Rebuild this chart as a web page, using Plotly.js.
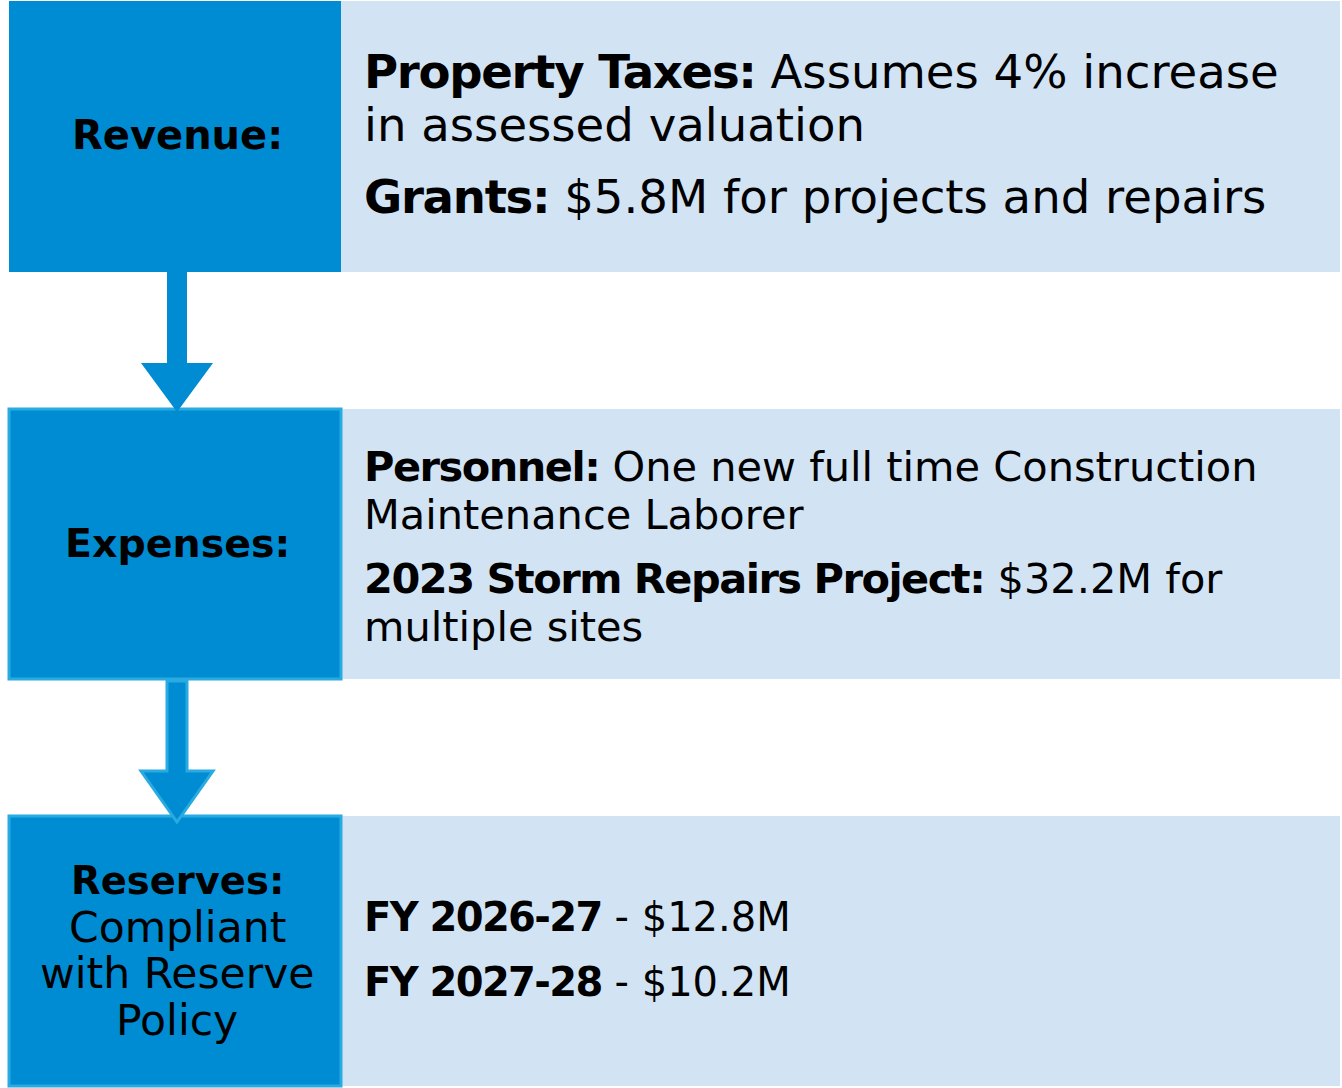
<!DOCTYPE html>
<html>
<head>
<meta charset="utf-8">
<script src="https://cdn.plot.ly/plotly-3.0.1.min.js"></script>
<style>
  html, body { margin: 0; padding: 0; background: #ffffff; }
  #chart { width: 1342px; height: 1088px; }
</style>
</head>
<body>
<div id="chart"></div>
<script>
// ---- Content (text of the diagram) ----
const stageLabels = ["Revenue:", "Expenses:", "Reserves:"];
const reserveNote = ["Compliant", "with Reserve", "Policy"];

const revenueBold = ["Property Taxes:", "", "Grants:"];
const revenueText = ["Assumes 4% increase", "in assessed valuation", "$5.8M for projects and repairs"];

const expenseBold = ["Personnel:", "", "2023 Storm Repairs Project:", ""];
const expenseText = ["One new full time Construction", "Maintenance Laborer", "$32.2M for", "multiple sites"];

const reserveYears = ["FY 2026-27", "FY 2027-28"];
const reserveAmounts = ["$12.8M", "$10.2M"];

// ---- Layout / styling ----
const DARK = "#008CD2";
const LIGHT = "#D2E4F4";
const EDGE = "#29ABE2";
const FONT = "DejaVu Sans, Noto Sans, sans-serif";

const boxes = [
  {y0: 1, y1: 272, edge: false},
  {y0: 409, y1: 679, edge: true},
  {y0: 816, y1: 1086, edge: true}
];

const shapes = [];
boxes.forEach(b => {
  shapes.push({type: "rect", xref: "x", yref: "y", x0: 341, x1: 1340, y0: b.y0, y1: b.y1,
    fillcolor: LIGHT, line: {width: 0}, layer: "below"});
  shapes.push({type: "rect", xref: "x", yref: "y", x0: 9, x1: 341, y0: b.y0, y1: b.y1,
    fillcolor: DARK, line: {width: b.edge ? 3 : 0, color: EDGE}, layer: "below"});
});

function arrowPath(top, headTop, tip) {
  return `M167,${top} L187,${top} L187,${headTop} L213,${headTop} L177,${tip} L141,${headTop} L167,${headTop} Z`;
}
shapes.push({type: "path", xref: "x", yref: "y", path: arrowPath(272, 363, 412),
  fillcolor: DARK, line: {width: 0}});
shapes.push({type: "path", xref: "x", yref: "y", path: arrowPath(681, 771, 822),
  fillcolor: DARK, line: {width: 3, color: EDGE}});

const annotations = [];
function ann(text, x, y, size, anchor) {
  annotations.push({
    text: text, x: x, y: y, xref: "x", yref: "y",
    xanchor: anchor || "left", yanchor: "middle",
    showarrow: false, align: anchor === "center" ? "center" : "left",
    font: {family: FONT, size: size, color: "#000000"}
  });
}
function bold(t, ls) {
  return '<span style="letter-spacing:' + ls + 'px"><b>' + t + '</b></span>';
}
function line(b, rest, ls) {
  return (b ? bold(b, ls) + " " : "") + rest;
}

// Left stage labels
ann(bold(stageLabels[0], 0), 177, 135, 40, "center");
ann(bold(stageLabels[1], 0), 177, 543, 39.5, "center");
ann(bold(stageLabels[2], 0), 177, 880, 38.5, "center");
const noteY = [927, 973, 1020];
reserveNote.forEach((t, i) => ann(t, 177, noteY[i], 42.5, "center"));

// Revenue details
const revY = [72, 125, 197];
revenueText.forEach((t, i) => ann(line(revenueBold[i], t, -1.3), 362, revY[i], 46.6));

// Expense details
const expY = [466, 514, 578, 626];
expenseText.forEach((t, i) => ann(line(expenseBold[i], t, -1.5), 362, expY[i], 41.5));

// Reserve details
const resY = [917, 982];
reserveYears.forEach((t, i) => ann(bold(t, -1.6) + " - " + reserveAmounts[i], 362, resY[i], 40));

const layout = {
  width: 1342, height: 1088,
  margin: {l: 0, r: 0, t: 0, b: 0, pad: 0},
  paper_bgcolor: "#ffffff", plot_bgcolor: "#ffffff",
  xaxis: {range: [0, 1342], visible: false, fixedrange: true},
  yaxis: {range: [1088, 0], visible: false, fixedrange: true},
  showlegend: false,
  shapes: shapes,
  annotations: annotations
};

Plotly.newPlot("chart", [], layout, {displayModeBar: false, staticPlot: true});
</script>
</body>
</html>
